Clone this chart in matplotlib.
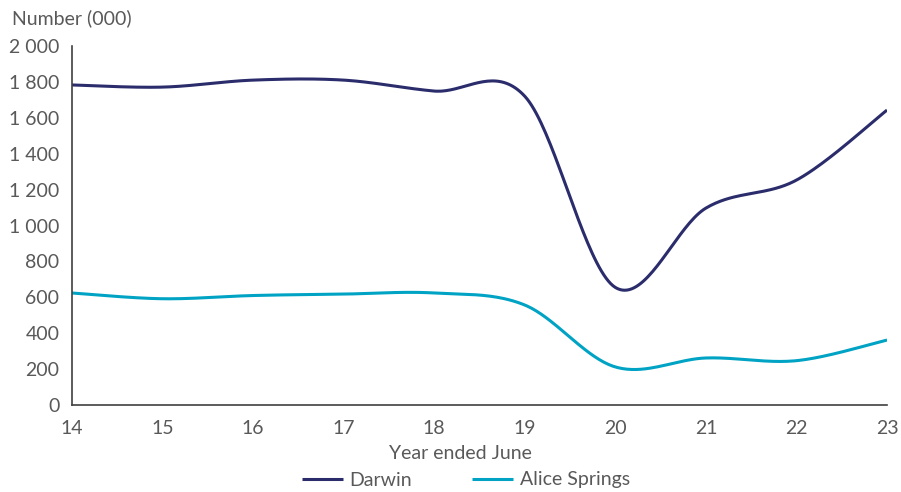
import numpy as np
import matplotlib.pyplot as plt
from matplotlib.ticker import FuncFormatter

# Data (thousands), year ended June
years = [14, 15, 16, 17, 18, 19, 20, 21, 22, 23]
darwin = [1783, 1771, 1810, 1810, 1749, 1720, 655, 1097, 1253, 1643]
alice_springs = [624, 592, 610, 618, 624, 557, 212, 262, 247, 362]

plt.rcParams['font.family'] = ['Lato', 'DejaVu Sans']
text_col = '#595959'
fs = 14


def smooth(x, y, n=40):
    # Catmull-Rom style smoothing, like a spreadsheet "smoothed line"
    x = np.asarray(x, float)
    y = np.asarray(y, float)
    px = np.concatenate([[x[0]], x, [x[-1]]])
    py = np.concatenate([[y[0]], y, [y[-1]]])
    xs, ys = [], []
    t = np.linspace(0, 1, n)
    for i in range(1, len(px) - 2):
        p0x, p1x, p2x, p3x = px[i - 1:i + 3]
        p0y, p1y, p2y, p3y = py[i - 1:i + 3]
        c1x, c1y = p1x + (p2x - p0x) / 6, p1y + (p2y - p0y) / 6
        c2x, c2y = p2x - (p3x - p1x) / 6, p2y - (p3y - p1y) / 6
        bx = (1 - t)**3 * p1x + 3 * (1 - t)**2 * t * c1x + 3 * (1 - t) * t**2 * c2x + t**3 * p2x
        by = (1 - t)**3 * p1y + 3 * (1 - t)**2 * t * c1y + 3 * (1 - t) * t**2 * c2y + t**3 * p2y
        xs.append(bx)
        ys.append(by)
    return np.concatenate(xs), np.concatenate(ys)


fig = plt.figure(figsize=(9.01, 4.92), dpi=100)
ax = fig.add_axes([0.0799, 0.1768, 0.9046, 0.7297])

dx, dy = smooth(years, darwin)
ax.plot(dx, dy, color='#2B2C6B', lw=2.2, label='Darwin', solid_capstyle='butt')
sx, sy = smooth(years, alice_springs)
ax.plot(sx, sy, color='#00A3C4', lw=2.2, label='Alice Springs', solid_capstyle='butt')

ax.set_xlim(14, 23)
ax.set_ylim(0, 2000)
ax.set_xticks(years)
ax.set_yticks(range(0, 2001, 200))
ax.yaxis.set_major_formatter(FuncFormatter(lambda v, p: f'{int(v):,}'.replace(',', ' ')))

for s in ['top', 'right']:
    ax.spines[s].set_visible(False)
for s in ['left', 'bottom']:
    ax.spines[s].set_color('#404040')
    ax.spines[s].set_linewidth(1.2)
ax.tick_params(length=0, labelsize=fs, labelcolor=text_col)
ax.tick_params(axis='x', pad=11)
ax.tick_params(axis='y', pad=9)

ax.set_xlabel('Year ended June', fontsize=fs, color=text_col)
ax.xaxis.set_label_coords(0.477, -0.112)
fig.text(12 / 901, 1 - 18 / 492, 'Number (000)', fontsize=fs, color=text_col,
         ha='left', va='center')

fig.legend(loc='center', bbox_to_anchor=(466 / 901, 1 - 480 / 492), ncol=2,
           frameon=False, fontsize=fs, labelcolor=text_col, handlelength=2.1,
           handletextpad=0.35, columnspacing=3.1, borderaxespad=0)

fig.savefig('out.png', dpi=100)
